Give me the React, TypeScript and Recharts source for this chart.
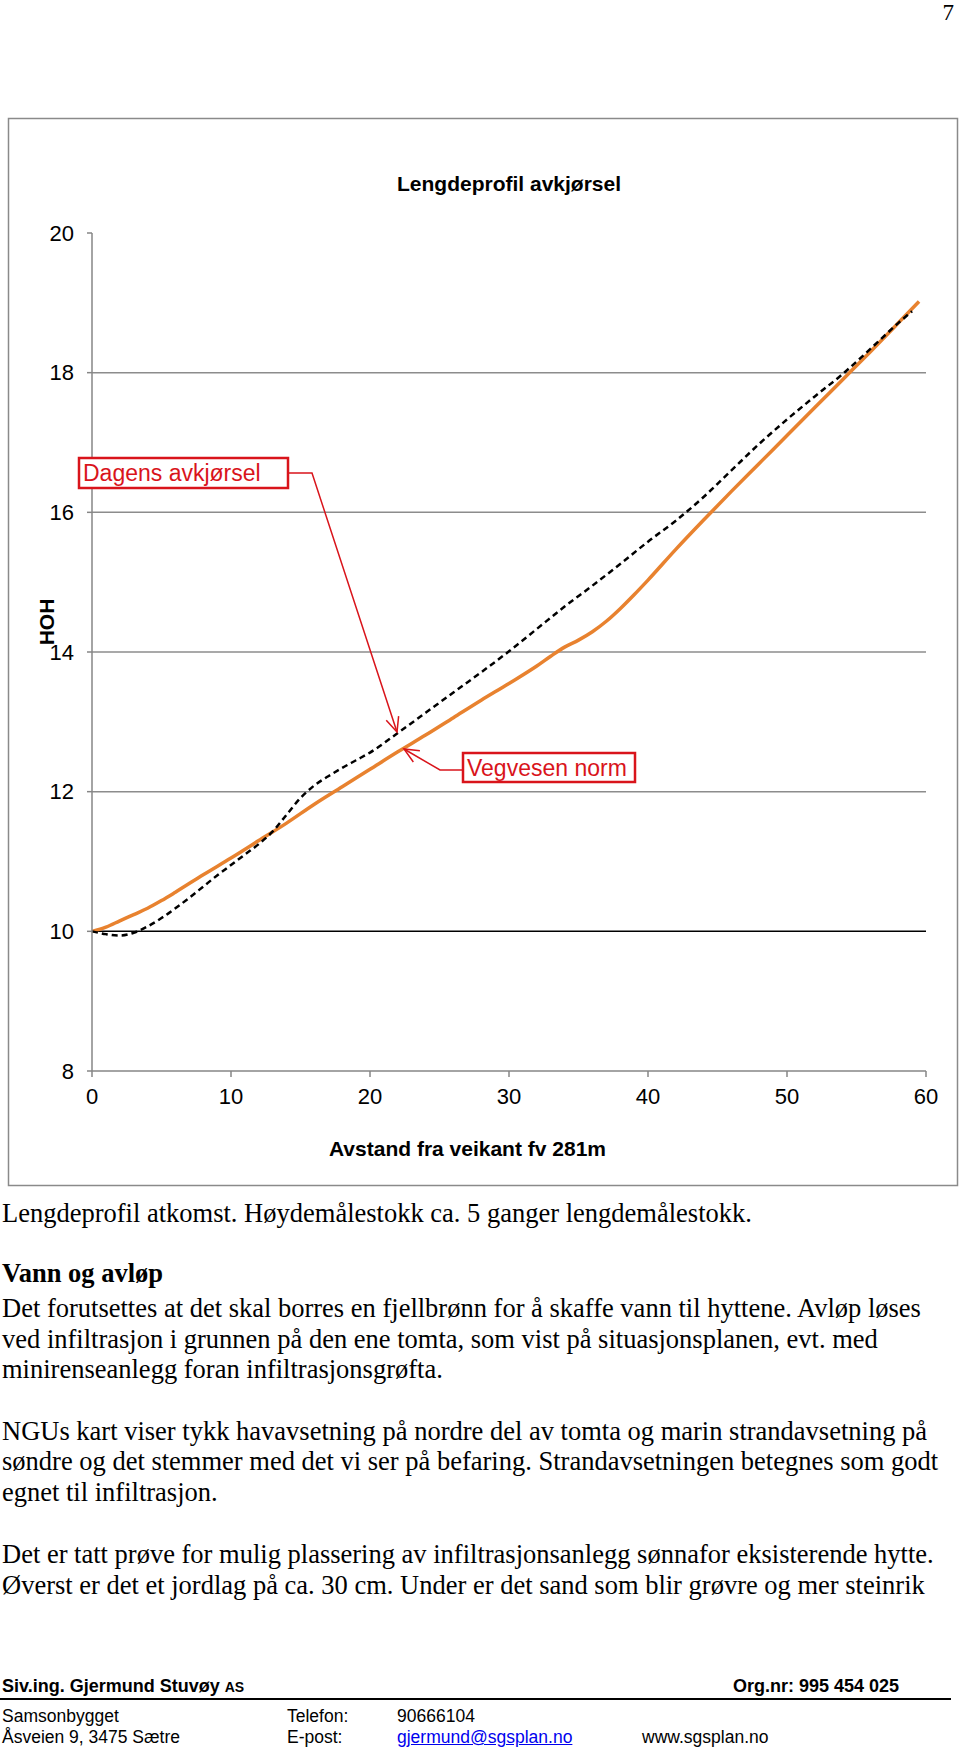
import { LineChart, Line, XAxis, YAxis, ReferenceLine } from "recharts";

// axis setup
const xTicks = [0, 10, 20, 30, 40, 50, 60];
const yTicks = [8, 10, 12, 14, 16, 18, 20];
const gridValues = [12, 14, 16, 18];

// Vegvesen norm (orange)
const normDist = [0, 1, 2, 3, 4, 5, 6, 8, 10, 12, 14, 16, 18, 20, 22, 24, 26, 28, 30, 32, 33, 34, 35, 36, 37, 38, 39, 40, 42, 44, 46, 48, 50, 52, 54, 56, 58, 59.5];
const normHoh = [10.0, 10.06, 10.15, 10.24, 10.33, 10.44, 10.56, 10.81, 11.05, 11.3, 11.55, 11.82, 12.07, 12.32, 12.57, 12.81, 13.06, 13.31, 13.55, 13.8, 13.94, 14.07, 14.17, 14.29, 14.44, 14.62, 14.82, 15.03, 15.47, 15.89, 16.3, 16.7, 17.1, 17.5, 17.9, 18.3, 18.71, 19.02];

// Dagens avkjørsel (black dashed)
const dagensDist = [0, 1, 2, 3, 4, 5, 6, 7, 8, 9, 10, 11, 12, 13, 14, 15, 16, 17, 18, 19, 20, 22, 24, 26, 28, 30, 32, 34, 36, 38, 40, 42, 44, 46, 48, 50, 52, 54, 56, 58, 59];
const dagensHoh = [10.0, 9.96, 9.94, 9.98, 10.07, 10.19, 10.33, 10.48, 10.64, 10.8, 10.95, 11.1, 11.25, 11.43, 11.67, 11.91, 12.09, 12.22, 12.34, 12.45, 12.56, 12.84, 13.13, 13.42, 13.71, 14.01, 14.33, 14.65, 14.95, 15.26, 15.58, 15.88, 16.22, 16.6, 16.98, 17.33, 17.66, 17.98, 18.34, 18.71, 18.88];

const normData = normDist.map((x, i) => ({ x, hoh: normHoh[i] }));
const dagensData = dagensDist.map((x, i) => ({ x, hoh: dagensHoh[i] }));

const SANS = "'Liberation Sans', Arial, sans-serif";
const SERIF = "'Liberation Serif', 'Times New Roman', serif";
const RED = "#d9141b";

const bodyLines: { text: string; y: number; bold?: boolean }[] = [
  { text: "Lengdeprofil atkomst. Høydemålestokk ca. 5 ganger lengdemålestokk.", y: 1213 },
  { text: "Vann og avløp", y: 1273, bold: true },
  { text: "Det forutsettes at det skal borres en fjellbrønn for å skaffe vann til hyttene. Avløp løses", y: 1308 },
  { text: "ved infiltrasjon i grunnen på den ene tomta, som vist på situasjonsplanen, evt. med", y: 1339 },
  { text: "minirenseanlegg foran infiltrasjonsgrøfta.", y: 1369 },
  { text: "NGUs kart viser tykk havavsetning på nordre del av tomta og marin strandavsetning på", y: 1431 },
  { text: "søndre og det stemmer med det vi ser på befaring. Strandavsetningen betegnes som godt", y: 1461 },
  { text: "egnet til infiltrasjon.", y: 1492 },
  { text: "Det er tatt prøve for mulig plassering av infiltrasjonsanlegg sønnafor eksisterende hytte.", y: 1554 },
  { text: "Øverst er det et jordlag på ca. 30 cm. Under er det sand som blir grøvre og mer steinrik", y: 1585 },
];

function arrowHead(tip: [number, number], from: [number, number], len = 16, ang = 24) {
  const a = Math.atan2(from[1] - tip[1], from[0] - tip[0]);
  const r = (ang * Math.PI) / 180;
  const p1 = [tip[0] + len * Math.cos(a + r), tip[1] + len * Math.sin(a + r)];
  const p2 = [tip[0] + len * Math.cos(a - r), tip[1] + len * Math.sin(a - r)];
  return `M${p1[0]},${p1[1]} L${tip[0]},${tip[1]} L${p2[0]},${p2[1]}`;
}

function BodyLine({ text, y, bold }: { text: string; y: number; bold?: boolean }) {
  const fs = 26.5;
  return (
    <div
      style={{
        position: "absolute",
        left: 2,
        top: y - fs / 2,
        fontFamily: SERIF,
        fontSize: fs,
        lineHeight: `${fs}px`,
        fontWeight: bold ? "bold" : "normal",
        whiteSpace: "nowrap",
        color: "#000",
      }}
    >
      {text}
    </div>
  );
}

function Foot({ x, y, children, bold, size = 17.5, style }: any) {
  return (
    <div
      style={{
        position: "absolute",
        left: x,
        top: y - size / 2,
        fontFamily: SANS,
        fontSize: size,
        lineHeight: `${size}px`,
        fontWeight: bold ? "bold" : "normal",
        whiteSpace: "nowrap",
        color: "#000",
        ...style,
      }}
    >
      {children}
    </div>
  );
}

export default function App() {
  return (
    <div style={{ position: "absolute", left: 0, top: 0, width: 960, height: 1757, background: "#fff", overflow: "hidden" }}>
      <div style={{ position: "absolute", right: 6, top: 0, fontFamily: SERIF, fontSize: 23, lineHeight: "normal" }}>7</div>

      <div style={{ position: "absolute", left: 0, top: 0 }}>
        <LineChart width={960} height={1200} margin={{ top: 233, right: 34, bottom: 0, left: 0 }}>
          {gridValues.map((v) => (
            <ReferenceLine key={v} y={v} stroke="#8c8c8c" strokeWidth={1.5} />
          ))}
          <ReferenceLine y={10} stroke="#000" strokeWidth={1.5} />
          <XAxis
            type="number"
            dataKey="x"
            domain={[0, 60]}
            ticks={xTicks}
            interval={0}
            height={129}
            stroke="#868686"
            strokeWidth={1.5}
            tickSize={6}
            tickMargin={11}
            tick={{ fill: "#000", fontSize: 22, fontFamily: SANS }}
          />
          <YAxis
            type="number"
            domain={[8, 20]}
            ticks={yTicks}
            interval={0}
            width={92}
            stroke="#868686"
            strokeWidth={1.5}
            tickSize={5}
            tickMargin={13}
            tick={{ fill: "#000", fontSize: 22, fontFamily: SANS }}
          />
          <Line
            data={normData}
            dataKey="hoh"
            type="monotone"
            stroke="#e8822f"
            strokeWidth={3.5}
            dot={false}
            isAnimationActive={false}
          />
          <Line
            data={dagensData}
            dataKey="hoh"
            type="monotone"
            stroke="#000"
            strokeWidth={2.5}
            strokeDasharray="6 4"
            dot={false}
            isAnimationActive={false}
          />
        </LineChart>
      </div>

      <svg width={960} height={1200} style={{ position: "absolute", left: 0, top: 0, pointerEvents: "none" }}>
        <rect x={8.5} y={118.5} width={949} height={1067} fill="none" stroke="#8a8a8a" strokeWidth={1.5} />
        <text x={509} y={191} textAnchor="middle" fontFamily={SANS} fontWeight="bold" fontSize={21}>
          Lengdeprofil avkjørsel
        </text>
        <text x={467.5} y={1156} textAnchor="middle" fontFamily={SANS} fontWeight="bold" fontSize={21}>
          Avstand fra veikant fv 281m
        </text>
        <text transform="translate(54,622) rotate(-90)" textAnchor="middle" fontFamily={SANS} fontWeight="bold" fontSize={21}>
          HOH
        </text>

        {/* callout: Dagens avkjørsel */}
        <rect x={79} y={458} width={209} height={30} fill="#fff" stroke={RED} strokeWidth={2.5} />
        <text x={83} y={481} fontFamily={SANS} fontSize={23} fill={RED}>
          Dagens avkjørsel
        </text>
        <polyline points="288,473 312,473 397,732" fill="none" stroke={RED} strokeWidth={1.5} />
        <path d={arrowHead([397, 732], [312, 473])} fill="none" stroke={RED} strokeWidth={1.5} />

        {/* callout: Vegvesen norm */}
        <rect x={463} y={753} width={172} height={29} fill="#fff" stroke={RED} strokeWidth={2.5} />
        <text x={467} y={776} fontFamily={SANS} fontSize={23} fill={RED}>
          Vegvesen norm
        </text>
        <polyline points="463,770 440,770 404,749" fill="none" stroke={RED} strokeWidth={1.5} />
        <path d={arrowHead([404, 749], [440, 770])} fill="none" stroke={RED} strokeWidth={1.5} />
      </svg>

      {bodyLines.map((l, i) => (
        <BodyLine key={i} {...l} />
      ))}

      <Foot x={2} y={1686} bold size={18}>
        Siv.ing. Gjermund Stuvøy <span style={{ fontSize: 14 }}>AS</span>
      </Foot>
      <Foot x={733} y={1686} bold size={18}>
        Org.nr: 995 454 025
      </Foot>
      <div style={{ position: "absolute", left: 0, top: 1698, width: 951, height: 2, background: "#000" }} />
      <Foot x={2} y={1717}>Samsonbygget</Foot>
      <Foot x={287} y={1717}>Telefon:</Foot>
      <Foot x={397} y={1717}>90666104</Foot>
      <Foot x={2} y={1738}>Åsveien 9, 3475 Sætre</Foot>
      <Foot x={287} y={1738}>E-post:</Foot>
      <Foot x={397} y={1738} style={{ color: "#0000ee", textDecoration: "underline" }}>
        gjermund@sgsplan.no
      </Foot>
      <Foot x={642} y={1738}>www.sgsplan.no</Foot>
    </div>
  );
}
